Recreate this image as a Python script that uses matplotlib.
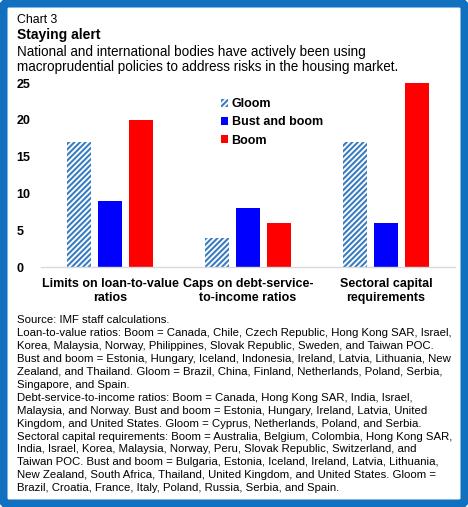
import matplotlib.pyplot as plt
import numpy as np
from matplotlib.patches import FancyBboxPatch

plt.rcParams['font.family'] = ['Liberation Sans', 'DejaVu Sans']
plt.rcParams['hatch.linewidth'] = 1.5

categories = ["Limits on loan-to-value\nratios",
              "Caps on debt-service-\nto-income ratios",
              "Sectoral capital\nrequirements"]
series_names = ["Gloom", "Bust and boom", "Boom"]
gloom = [17, 4, 17]
bust_and_boom = [9, 8, 6]
boom = [20, 6, 25]
yticks = [0, 5, 10, 15, 20, 25]

notes = [
    "Source: IMF staff calculations.",
    "Loan-to-value ratios: Boom = Canada, Chile, Czech Republic, Hong Kong SAR, Israel,",
    "Korea, Malaysia, Norway, Philippines, Slovak Republic, Sweden, and Taiwan POC.",
    "Bust and boom = Estonia, Hungary, Iceland, Indonesia, Ireland, Latvia, Lithuania, New",
    "Zealand, and Thailand. Gloom = Brazil, China, Finland, Netherlands, Poland, Serbia,",
    "Singapore, and Spain.",
    "Debt-service-to-income ratios: Boom = Canada, Hong Kong SAR, India, Israel,",
    "Malaysia, and Norway. Bust and boom = Estonia, Hungary, Ireland, Latvia, United",
    "Kingdom, and United States. Gloom = Cyprus, Netherlands, Poland, and Serbia.",
    "Sectoral capital requirements: Boom = Australia, Belgium, Colombia, Hong Kong SAR,",
    "India, Israel, Korea, Malaysia, Norway, Peru, Slovak Republic, Switzerland, and",
    "Taiwan POC. Bust and boom = Bulgaria, Estonia, Iceland, Ireland, Latvia, Lithuania,",
    "New Zealand, South Africa, Thailand, United Kingdom, and United States. Gloom =",
    "Brazil, Croatia, France, Italy, Poland, Russia, Serbia, and Spain.",
]

W, H = 468, 507
fig = plt.figure(figsize=(W / 100, H / 100), dpi=100)

# blue frame
fig.patches.append(FancyBboxPatch((3 / W, 3 / H), 1 - 6 / W, 1 - 6 / H,
                                  boxstyle="round,pad=0,rounding_size=0.012",
                                  transform=fig.transFigure, facecolor='white',
                                  edgecolor='#1170C0', linewidth=6.5, zorder=-5))

fig.text(17 / W, 1 - 20 / H, "Chart 3", fontsize=8.8, va='center')
fig.text(17 / W, 1 - 35 / H, "Staying alert", fontsize=10, weight='bold', va='center')
fig.text(17 / W, 1 - 52 / H, "National and international bodies have actively been using",
         fontsize=9.75, va='center')
fig.text(17 / W, 1 - 67 / H, "macroprudential policies to address risks in the housing market.",
         fontsize=9.75, va='center')

ax = fig.add_axes([41 / W, 1 - 267 / H, 414 / W, 184 / H])
ax.patch.set_alpha(0)
x = np.arange(len(categories))
bw = 0.178
step = 0.225
ax.bar(x - step, gloom, bw, color='white', edgecolor='#3A7DC0', hatch='//////',
       linewidth=0, label=series_names[0])
ax.bar(x, bust_and_boom, bw, color='#0000FF', label=series_names[1])
ax.bar(x + step, boom, bw, color='#FF0000', label=series_names[2])

ax.set_xlim(-0.5, 2.5)
ax.set_ylim(0, 25)
ax.set_yticks(yticks)
ax.set_yticklabels([str(t) for t in yticks], fontsize=9, weight='bold', ha='left')
ax.tick_params(axis='y', length=0, pad=17.5)
ax.set_xticks(x)
ax.set_xticklabels(categories, fontsize=9, weight='bold', linespacing=1.2)
ax.tick_params(axis='x', length=0, pad=8)
for s in ['top', 'right', 'left']:
    ax.spines[s].set_visible(False)
ax.spines['bottom'].set_color('#D9D9D9')
ax.spines['bottom'].set_linewidth(1)

ax.legend(loc='upper left', bbox_to_anchor=((216 - 41) / 414, 1 - (93 - 83) / 184),
          frameon=False, prop={'weight': 'bold', 'size': 9},
          handlelength=0.55, handleheight=0.6, handletextpad=0.3,
          labelspacing=0.5, borderaxespad=0)

y0 = 320
for i, line in enumerate(notes):
    fig.text(17 / W, 1 - (y0 + i * 12.95) / H, line, fontsize=8.2, va='center')

fig.savefig("out.png", dpi=100)
